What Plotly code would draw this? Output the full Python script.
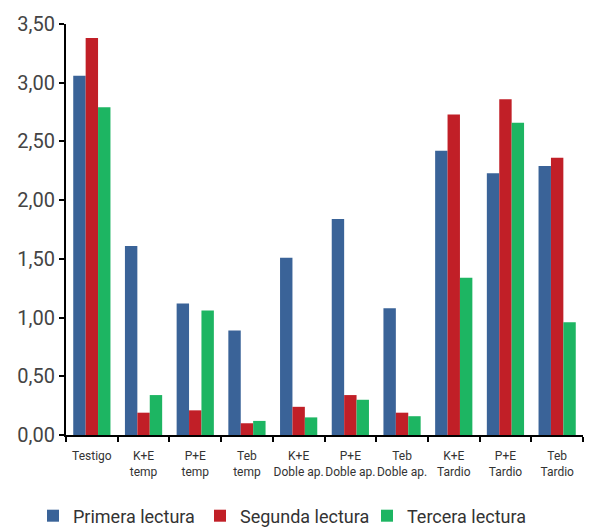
import plotly.graph_objects as go

categories = ["Testigo", "K+E<br>temp", "P+E<br>temp", "Teb<br>temp", "K+E<br>Doble ap.",
              "P+E<br>Doble ap.", "Teb<br>Doble ap.", "K+E<br>Tardio", "P+E<br>Tardio", "Teb<br>Tardio"]
primera = [3.06, 1.61, 1.12, 0.89, 1.51, 1.84, 1.08, 2.42, 2.23, 2.29]
segunda = [3.38, 0.19, 0.21, 0.10, 0.24, 0.34, 0.19, 2.73, 2.86, 2.36]
tercera = [2.79, 0.34, 1.06, 0.12, 0.15, 0.30, 0.16, 1.34, 2.66, 0.96]
series_names = ["Primera lectura", "Segunda lectura", "Tercera lectura"]
colors = ["#3a6398", "#c11f27", "#1db562"]
y_ticks = [0, 0.5, 1, 1.5, 2, 2.5, 3, 3.5]
y_tick_labels = ["0,00", "0,50", "1,00", "1,50", "2,00", "2,50", "3,00", "3,50"]

FONT = "Roboto, Liberation Sans, sans-serif"

fig = go.Figure()
for name, vals, c in zip(series_names, [primera, segunda, tercera], colors):
    fig.add_trace(go.Bar(x=categories, y=vals, name=name, marker=dict(color=c, line=dict(width=0))))

fig.update_layout(
    width=616, height=527,
    margin=dict(l=66, r=33, t=24, b=92),
    paper_bgcolor="white", plot_bgcolor="white",
    barmode="group", bargap=0.28, bargroupgap=0,
    font=dict(family=FONT, color="#333333"),
    showlegend=True,
    legend=dict(orientation="h", xref="container", yref="container",
                x=33 / 616, xanchor="left", y=1 - 516 / 527, yanchor="middle",
                font=dict(size=18, family=FONT, color="#333333"),
                entrywidth=122, entrywidthmode="pixels", itemwidth=30,
                bgcolor="rgba(0,0,0,0)"),
    xaxis=dict(showline=True, linecolor="black", linewidth=2, ticks="outside", tickson="boundaries",
               ticklen=5, tickwidth=2, tickcolor="black", showgrid=False, tickangle=0,
               automargin=False, ticklabelstandoff=9,
               tickfont=dict(size=12, family=FONT, color="#333333")),
    yaxis=dict(range=[0, 3.5], showline=True, linecolor="black", linewidth=2, ticks="outside",
               ticklen=5, tickwidth=2, tickcolor="black", showgrid=False, zeroline=False,
               automargin=False,
               tickvals=y_ticks, ticktext=y_tick_labels,
               tickfont=dict(size=20, family=FONT, color="#444444")),
)

fig.write_html("out.html")
